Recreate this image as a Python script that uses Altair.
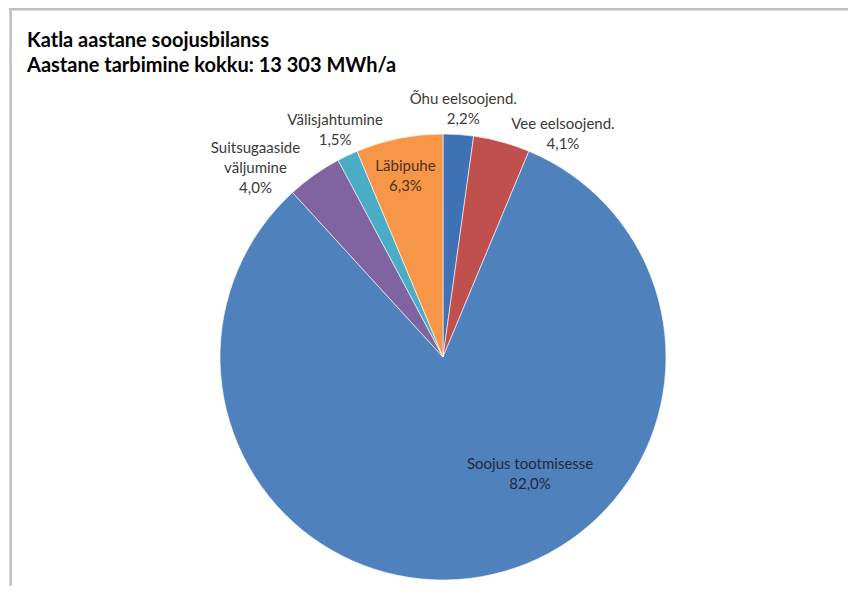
import math
import altair as alt
import pandas as pd

categories = ["Õhu eelsoojend.", "Vee eelsoojend.", "Soojus tootmisesse",
              "Suitsugaaside väljumine", "Välisjahtumine", "Läbipuhe"]
shares = [2.2, 4.1, 82.0, 4.0, 1.5, 6.3]
labels = ["Õhu eelsoojend.\n2,2%", "Vee eelsoojend.\n4,1%", "Soojus tootmisesse\n82,0%",
          "Suitsugaaside\nväljumine\n4,0%", "Välisjahtumine\n1,5%", "Läbipuhe\n6,3%"]
colors = ["#3F72B5", "#C0504D", "#4F81BD", "#8064A2", "#4BACC6", "#F79646"]
title_lines = ["Katla aastane soojusbilanss", "Aastane tarbimine kokku: 13 303 MWh/a"]

df = pd.DataFrame({"cat": categories, "share": shares, "label": labels,
                   "idx": list(range(len(categories)))})

W, H = 840, 578
CX, CY = 435, 349
R = 223
FONT = "Lato"
LH = 20

color_scale = alt.Scale(domain=categories, range=colors)

base = alt.Chart(df)

pie = base.mark_arc(outerRadius=R, stroke="white", strokeWidth=0.6).encode(
    theta=alt.Theta("share:Q", stack=True),
    order=alt.Order("idx:Q"),
    color=alt.Color("cat:N", scale=color_scale, legend=None),
    x=alt.value(CX), y=alt.value(CY),
)

lab_base = base.transform_window(
    cum="sum(share)", sort=[alt.SortField("idx")], frame=[None, 0]
).transform_joinaggregate(total="sum(share)").transform_calculate(
    ang=f"(datum.cum - datum.share / 2) / datum.total * {2 * math.pi}"
)

# per-label placement tweaks (radius, dx, dy, color)
placements = {
    "Õhu eelsoojend.": (250, 3, -9, "#3A3A3A"),
    "Vee eelsoojend.": (254, 53, 12, "#3A3A3A"),
    "Soojus tootmisesse": (146, 62, -37, "#1F2A3C"),
    "Suitsugaaside väljumine": (266, -34, 8, "#3A3A3A"),
    "Välisjahtumine": (252, 0, -9, "#3A3A3A"),
    "Läbipuhe": (186, -1, -9, "#4A3320"),
}

label_layers = []
for cat in categories:
    r, dx, dy, col = placements[cat]
    label_layers.append(
        lab_base.transform_filter(alt.datum.cat == cat).mark_text(
            radius=r, dx=dx, dy=dy, font=FONT, fontSize=15, lineHeight=LH,
            lineBreak="\n", align="center", baseline="middle", color=col,
        ).encode(
            theta=alt.Theta("ang:Q", scale=None),
            text="label:N",
            x=alt.value(CX), y=alt.value(CY),
        )
    )

one = pd.DataFrame({"a": [0]})
title1 = alt.Chart(one).mark_text(
    font=FONT, fontSize=20, fontWeight="bold", align="left", baseline="alphabetic",
    color="#000000", text=title_lines[0],
).encode(x=alt.value(19), y=alt.value(39))
title2 = alt.Chart(one).mark_text(
    font=FONT, fontSize=20, fontWeight="bold", align="left", baseline="alphabetic",
    color="#000000", text=title_lines[1],
).encode(x=alt.value(19), y=alt.value(64))

top_border = alt.Chart(one).mark_rect(color="#BFBFBF").encode(
    x=alt.value(1), x2=alt.value(W), y=alt.value(0), y2=alt.value(2.5))
left_border = alt.Chart(one).mark_rect(color="#BFBFBF").encode(
    x=alt.value(1.3), x2=alt.value(3.8), y=alt.value(0), y2=alt.value(H))

chart = alt.layer(pie, *label_layers, title1, title2, top_border, left_border).properties(
    width=W, height=H, autosize=alt.AutoSizeParams(type="none"), padding=0,
    background="white",
).configure_view(stroke=None)

chart.save("out.html", embed_options={"renderer": "svg", "actions": False})
